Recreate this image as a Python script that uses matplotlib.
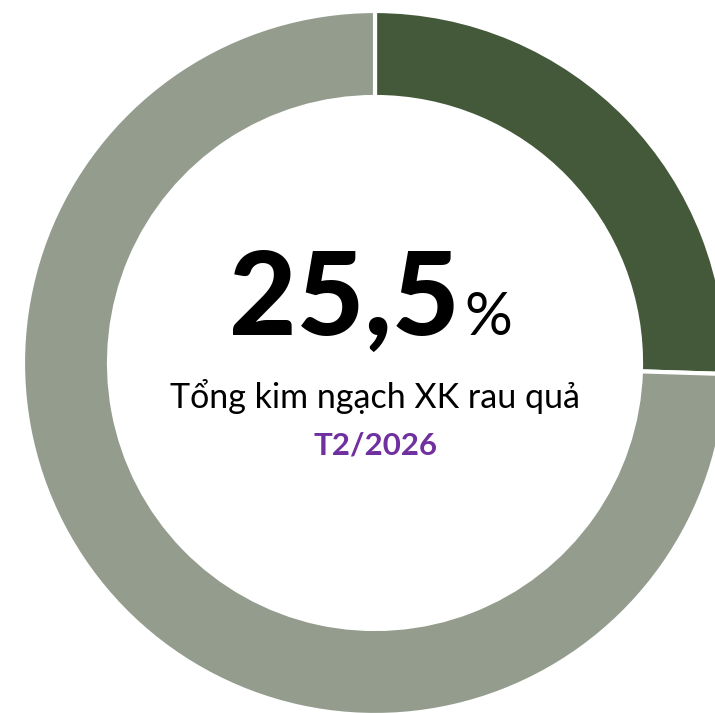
import matplotlib.pyplot as plt

# Du lieu
labels = ['Rau quả', 'Khác']
values = [25.5, 74.5]
colors = ['#44593a', '#949c8e']

big_value = '25,5'
subtitle = 'Tổng kim ngạch XK rau quả'
period = 'T2/2026'

fig = plt.figure(figsize=(7.15, 7.13), dpi=100)
ax = fig.add_axes([0, 0, 1, 1])

cx, cy, r_out, r_in = 375, 350, 352, 266
ax.pie(values, colors=colors, startangle=90, counterclock=False,
       center=(cx, cy), radius=r_out, frame=True,
       wedgeprops=dict(width=r_out - r_in, edgecolor='white', linewidth=3))
ax.set_xlim(0, 715)
ax.set_ylim(0, 713)
ax.set_aspect('equal')
ax.axis('off')

ax.text(460, 378, big_value, ha='right', va='baseline', fontsize=84,
        fontweight=900, family='Lato', color='black')
ax.text(464, 378, '%', ha='left', va='baseline', fontsize=43,
        family='Lato', color='black')
ax.text(cx, 305, subtitle, ha='center', va='baseline', fontsize=24.5,
        family='Lato', color='black')
ax.text(cx, 258, period, ha='center', va='baseline', fontsize=22.5,
        fontweight='bold', family='Lato', color='#7030a0')

fig.savefig('out.png', dpi=100)
